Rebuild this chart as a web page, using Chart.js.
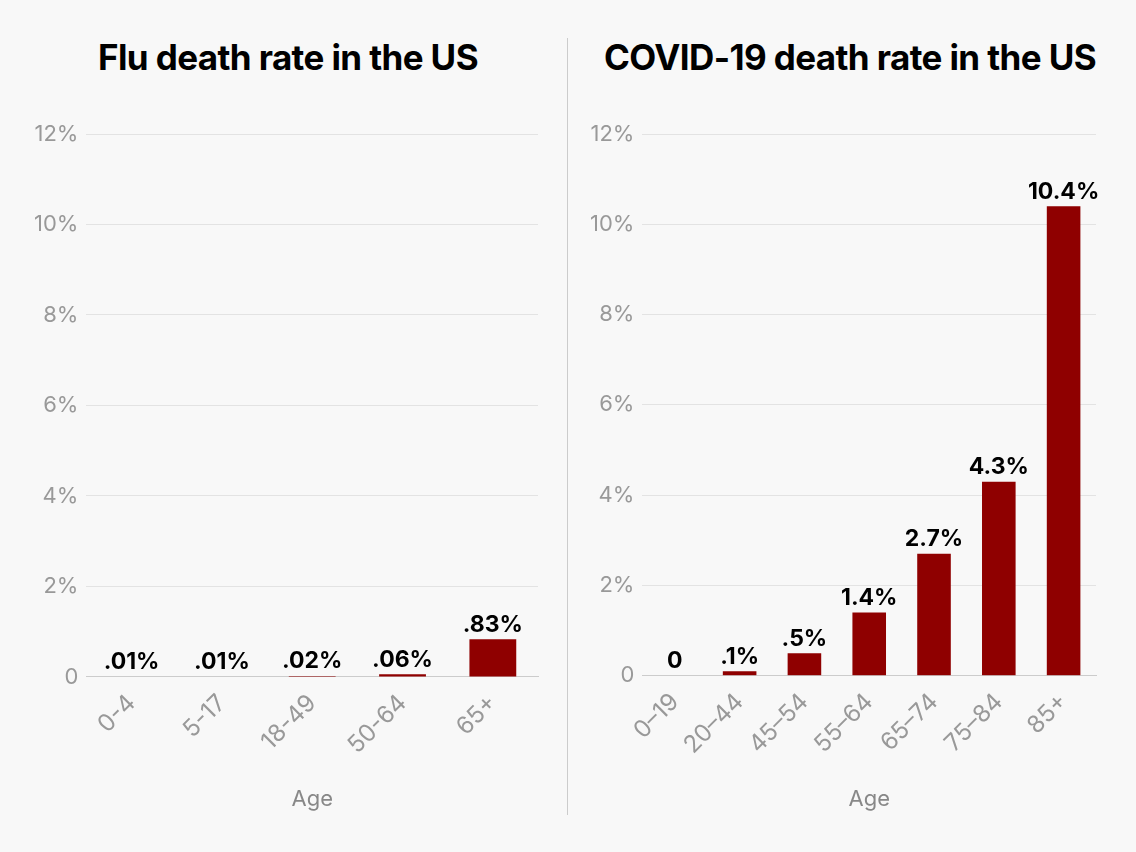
<!DOCTYPE html>
<html><head><meta charset="utf-8">
<script src="https://cdn.jsdelivr.net/npm/chart.js@4"></script>
<style>
body{margin:0;background:#f8f8f8;width:1136px;height:852px;overflow:hidden;font-family:"Inter","Roboto",sans-serif;}
.t{position:absolute;top:36px;font-weight:700;font-size:35px;color:#000;text-align:center;letter-spacing:-0.6px}
.w{position:absolute;top:100px;height:752px}
#div{position:absolute;left:567px;top:38px;width:1px;height:777px;background:#ccc}
</style></head><body>
<div class="t" style="left:30px;width:516px">Flu death rate in the US</div>
<div class="t" style="left:580px;width:540px">COVID-19 death rate in the US</div>
<div id="div"></div>
<div class="w" style="left:0;width:560px"><canvas id="c1"></canvas></div>
<div class="w" style="left:576px;width:560px"><canvas id="c2"></canvas></div>
<script>
const fluAges=["0-4","5-17","18-49","50-64","65+"];
const fluRates=[0.01,0.01,0.02,0.06,0.83];
const fluLabels=[".01%",".01%",".02%",".06%",".83%"];
const covAges=["0–19","20–44","45–54","55–64","65–74","75–84","85+"];
const covRates=[0,0.1,0.5,1.4,2.7,4.3,10.4];
const covLabels=["0",".1%",".5%","1.4%","2.7%","4.3%","10.4%"];
const yTicks=[0,2,4,6,8,10,12];

const labelPlugin={id:'lbl',afterDatasetsDraw(ch){
  const ctx=ch.ctx,meta=ch.getDatasetMeta(0),labs=ch.options.plugins.lbl.labels;
  ctx.save();ctx.font='700 23px Inter, Roboto, sans-serif';ctx.fillStyle='#000';ctx.textAlign='center';ctx.textBaseline='bottom';
  meta.data.forEach((b,i)=>ctx.fillText(labs[i],b.x,b.y-3));ctx.restore();}};

function make(id,cats,vals,labs,left,right){
  Chart.defaults.font.family='Inter, Roboto, sans-serif';
  new Chart(document.getElementById(id),{type:'bar',
    data:{labels:cats,datasets:[{data:vals,backgroundColor:'#8f0000',barPercentage:0.72,categoryPercentage:0.72}]},
    options:{responsive:true,maintainAspectRatio:false,animation:false,
      layout:{padding:{top:34,left:left,right:right,bottom:35}},
      plugins:{legend:{display:false},tooltip:{enabled:false},lbl:{labels:labs}},
      scales:{
        y:{min:0,max:12,afterBuildTicks(s){s.ticks=yTicks.map(v=>({value:v}));},
          ticks:{color:'#999',font:{size:22},padding:8,callback:v=>v===0?'0':v+'%'},
          grid:{color:'#e3e3e3',drawTicks:false},border:{display:false}},
        x:{ticks:{color:'#999',font:{size:24},maxRotation:45,minRotation:45,padding:4},
          grid:{display:false},border:{color:'#ccc'},
          title:{display:true,text:'Age',color:'#888',font:{size:22},padding:{top:23}}}
      }},plugins:[labelPlugin]});
}
make('c1',fluAges,fluRates,fluLabels,26,22);
make('c2',covAges,covRates,covLabels,6,40);
</script></body></html>
